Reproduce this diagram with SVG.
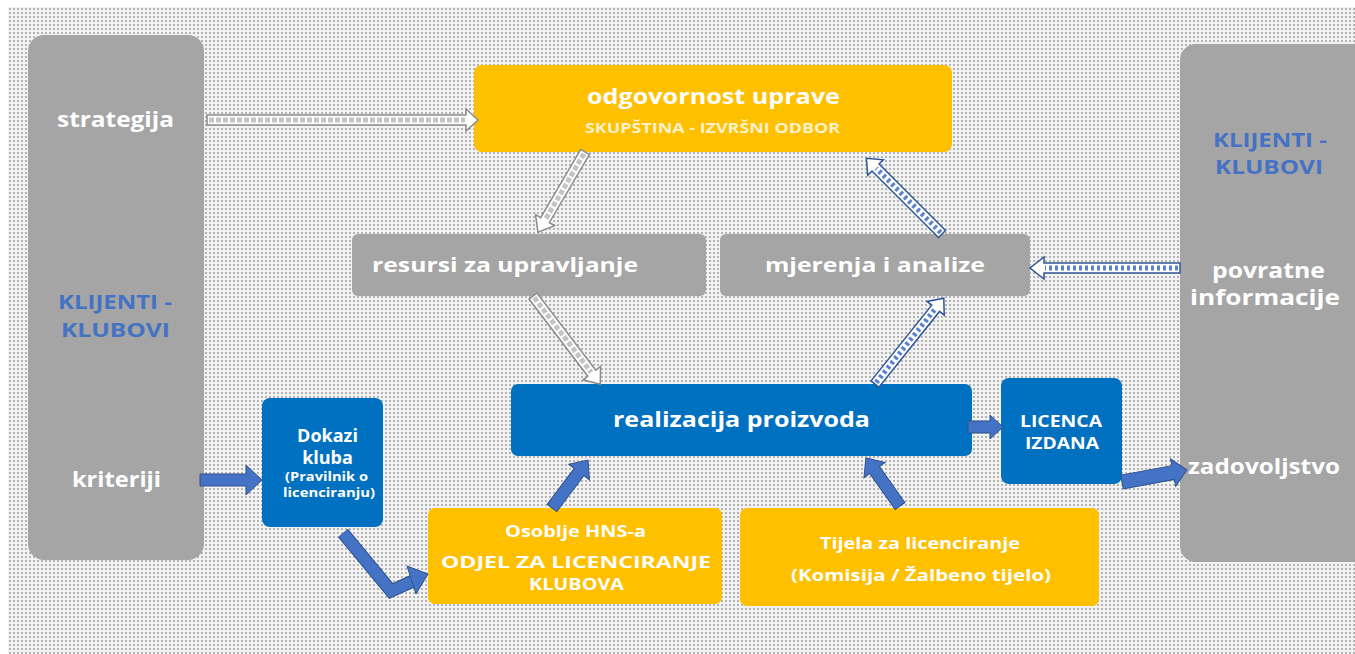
<svg xmlns="http://www.w3.org/2000/svg" width="1355" height="654" viewBox="0 0 1355 654">
<defs>
<pattern id="bg" width="4" height="4" patternUnits="userSpaceOnUse">
<rect width="4" height="4" fill="#f2f2f2"/>
<rect x="1" y="0" width="2" height="2" fill="#b4b4b4"/>
</pattern>
<style>
.t{font-family:"Open Sans","Liberation Sans",sans-serif;font-weight:700;text-anchor:middle;fill:#ffffff}
.b{fill:#4472c4}
.gray{fill:#a5a5a5}
.yel{fill:#ffc000}
.blu{fill:#0070c0}
.hg{fill:#ffffff;stroke:#8c8c8c;stroke-width:1.5}
.hgs{stroke:#c4c4c4;stroke-width:5;stroke-dasharray:5 2;fill:none}
.hb{fill:#ffffff;stroke:#2f5597;stroke-width:1.5}
.hbs{stroke:#5b82d0;stroke-width:5;stroke-dasharray:3 3;fill:none}
.sb{fill:#4472c4;stroke:#2f528f;stroke-width:1}
</style>
</defs>
<rect width="1355" height="654" fill="#ffffff"/>
<rect x="8" y="7" width="1347" height="647" fill="url(#bg)"/>

<g id="klijenti-left">
<rect x="28" y="35" width="176" height="525" rx="16" class="gray"/>
<text x="115.5" y="127" class="t" font-size="21" textLength="117" lengthAdjust="spacingAndGlyphs">strategija</text>
<text x="115" y="309" class="t b" font-size="19" textLength="114" lengthAdjust="spacingAndGlyphs">KLIJENTI -</text>
<text x="115.5" y="337" class="t b" font-size="19" textLength="109" lengthAdjust="spacingAndGlyphs">KLUBOVI</text>
<text x="116.5" y="487" class="t" font-size="21" textLength="89" lengthAdjust="spacingAndGlyphs">kriteriji</text>
</g>

<g id="klijenti-right">
<rect x="1180" y="44" width="190" height="518" rx="16" class="gray"/>
<text x="1270" y="147" class="t b" font-size="19" textLength="114" lengthAdjust="spacingAndGlyphs">KLIJENTI -</text>
<text x="1269" y="174" class="t b" font-size="19" textLength="108" lengthAdjust="spacingAndGlyphs">KLUBOVI</text>
<text x="1268.5" y="278" class="t" font-size="21" textLength="113" lengthAdjust="spacingAndGlyphs">povratne</text>
<text x="1265" y="305" class="t" font-size="21" textLength="150" lengthAdjust="spacingAndGlyphs">informacije</text>
<text x="1264" y="474" class="t" font-size="21" textLength="152" lengthAdjust="spacingAndGlyphs">zadovoljstvo</text>
</g>

<g id="odgovornost">
<rect x="474" y="65" width="478" height="87" rx="8" class="yel"/>
<text x="713.5" y="104" class="t" font-size="21" textLength="253" lengthAdjust="spacingAndGlyphs">odgovornost uprave</text>
<text x="712.5" y="133" class="t" font-size="14" textLength="255" lengthAdjust="spacingAndGlyphs" style="fill:#fff2cc">SKUPŠTINA - IZVRŠNI ODBOR</text>
</g>

<g id="resursi">
<rect x="352" y="234" width="354" height="62" rx="6" class="gray"/>
<text x="505" y="272" class="t" font-size="20" textLength="266" lengthAdjust="spacingAndGlyphs">resursi za upravljanje</text>
</g>

<g id="mjerenja">
<rect x="720" y="234" width="310" height="62" rx="6" class="gray"/>
<text x="875" y="272" class="t" font-size="20" textLength="220" lengthAdjust="spacingAndGlyphs">mjerenja i analize</text>
</g>

<g id="realizacija">
<rect x="511" y="384" width="461" height="72" rx="7" class="blu"/>
<text x="741.5" y="427" class="t" font-size="21" textLength="257" lengthAdjust="spacingAndGlyphs">realizacija proizvoda</text>
</g>

<g id="licenca">
<rect x="1001" y="378" width="121" height="106" rx="8" class="blu"/>
<text x="1061" y="427" class="t" font-size="16" textLength="82" lengthAdjust="spacingAndGlyphs">LICENCA</text>
<text x="1062" y="449" class="t" font-size="16" textLength="74" lengthAdjust="spacingAndGlyphs">IZDANA</text>
</g>

<g id="dokazi">
<rect x="262" y="398" width="121" height="129" rx="8" class="blu"/>
<text x="327.5" y="442" class="t" font-size="18">Dokazi</text>
<text x="327.5" y="464" class="t" font-size="18">kluba</text>
<text x="326.5" y="481" class="t" font-size="13" textLength="83" lengthAdjust="spacingAndGlyphs">(Pravilnik o</text>
<text x="329" y="497" class="t" font-size="13" textLength="92" lengthAdjust="spacingAndGlyphs">licenciranju)</text>
</g>

<g id="osoblje">
<rect x="428" y="508" width="294" height="96" rx="7" class="yel"/>
<text x="575.5" y="537" class="t" font-size="16" textLength="141" lengthAdjust="spacingAndGlyphs">Osoblje HNS-a</text>
<text x="576" y="568" class="t" font-size="16" textLength="270" lengthAdjust="spacingAndGlyphs">ODJEL ZA LICENCIRANJE</text>
<text x="576.5" y="590" class="t" font-size="16" textLength="95" lengthAdjust="spacingAndGlyphs">KLUBOVA</text>
</g>

<g id="tijela">
<rect x="740" y="508" width="359" height="98" rx="7" class="yel"/>
<text x="920" y="549" class="t" font-size="16" textLength="200" lengthAdjust="spacingAndGlyphs">Tijela za licenciranje</text>
<text x="921" y="581" class="t" font-size="16" textLength="260" lengthAdjust="spacingAndGlyphs">(Komisija / Žalbeno tijelo)</text>
</g>

<g id="connectors">
<!-- strategija -> odgovornost -->
<g transform="translate(207,120)">
<polygon class="hg" points="0,-5 259,-5 259,-11 271,0 259,11 259,5 0,5"/>
<line class="hgs" x1="2" y1="0" x2="258" y2="0"/>
</g>
<!-- odgovornost -> resursi -->
<g transform="translate(585,152) rotate(120.4)">
<polygon class="hg" points="0,-5 79,-5 79,-11 93,0 79,11 79,5 0,5"/>
<line class="hgs" x1="2" y1="0" x2="78" y2="0"/>
</g>
<!-- resursi -> realizacija -->
<g transform="translate(533,296) rotate(52.7)">
<polygon class="hg" points="0,-5 97,-5 97,-11 111,0 97,11 97,5 0,5"/>
<line class="hgs" x1="2" y1="0" x2="96" y2="0"/>
</g>
<!-- realizacija -> mjerenja -->
<g transform="translate(875,384) rotate(-51.3)">
<polygon class="hb" points="0,-5 97,-5 97,-11 110,0 97,11 97,5 0,5"/>
<line class="hbs" x1="2" y1="0" x2="96" y2="0"/>
</g>
<!-- mjerenja -> odgovornost -->
<g transform="translate(942,234) rotate(-135)">
<polygon class="hb" points="0,-5 94,-5 94,-11 107,0 94,11 94,5 0,5"/>
<line class="hbs" x1="2" y1="0" x2="93" y2="0"/>
</g>
<!-- povratne -> mjerenja -->
<g transform="translate(1180,268) rotate(180)">
<polygon class="hb" points="0,-5 136,-5 136,-11 150,0 136,11 136,5 0,5"/>
<line class="hbs" x1="2" y1="0" x2="135" y2="0"/>
</g>
<!-- kriteriji -> dokazi -->
<polygon class="sb" transform="translate(200,480)" points="0,-6 46,-6 46,-15 62,0 46,15 46,6 0,6"/>
<!-- dokazi -> osoblje (elbow) -->
<path d="M343,533 L391,591 L413,581" fill="none" stroke="#2f528f" stroke-width="13" stroke-linejoin="miter"/>
<path d="M343,533 L391,591 L413,581" fill="none" stroke="#4472c4" stroke-width="11" stroke-linejoin="miter"/>
<polygon class="sb" points="407,566 428,574 416,594"/>
<!-- osoblje -> realizacija -->
<polygon class="sb" transform="translate(552,508) rotate(-53.1)" points="0,-6 45,-6 45,-13 60,0 45,13 45,6 0,6"/>
<!-- tijela -> realizacija -->
<polygon class="sb" transform="translate(900,506) rotate(-125.3)" points="0,-6 44,-6 44,-13 59,0 44,13 44,6 0,6"/>
<!-- realizacija -> licenca -->
<polygon class="sb" transform="translate(968,427)" points="0,-6 22,-6 22,-12 35,0 22,12 22,6 0,6"/>
<!-- licenca -> zadovoljstvo -->
<polygon class="sb" transform="translate(1122,482) rotate(-10.5)" points="0,-7 52,-7 52,-14 66,0 52,14 52,7 0,7"/>
</g>
</svg>
